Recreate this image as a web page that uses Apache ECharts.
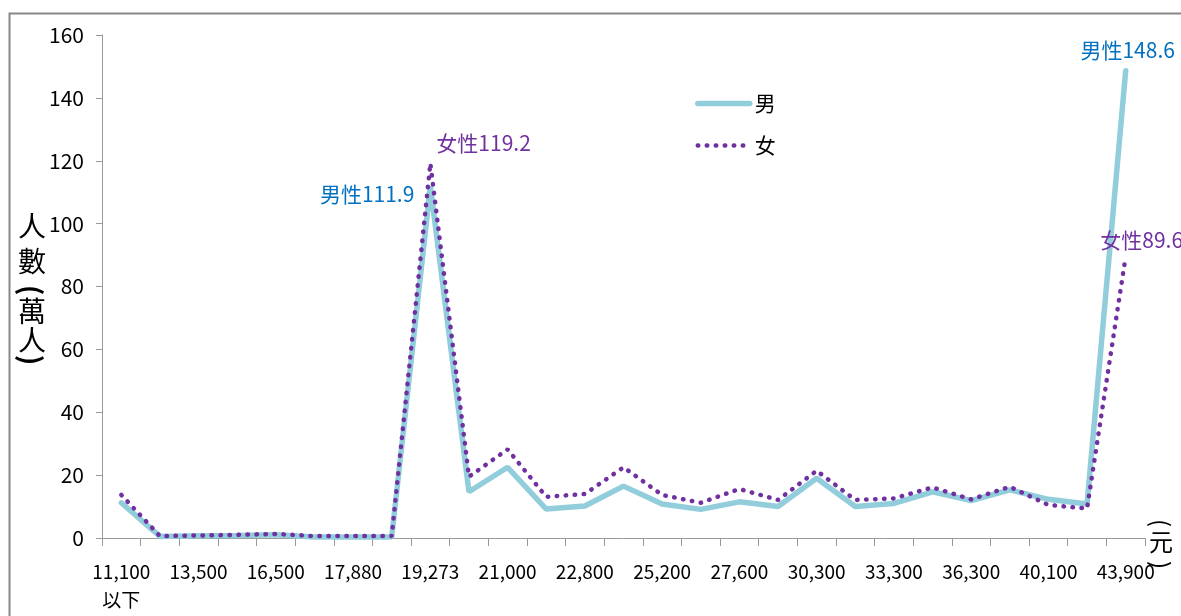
<!DOCTYPE html>
<html><head><meta charset="utf-8">
<script src="https://cdn.jsdelivr.net/npm/echarts@6/dist/echarts.min.js"></script>
<style>html,body{margin:0;padding:0;background:#fff}#c{width:1181px;height:616px}</style>
</head><body><div id="c"></div>
<script>
const categories = ['11,100\n以下','12,540','13,500','15,840','16,500','17,280','17,880','19,047','19,273','20,008','21,000','21,900','22,800','24,000','25,200','26,400','27,600','28,800','30,300','31,800','33,300','34,800','36,300','38,200','40,100','42,000','43,900'];
const male =   [11.2,0.5,0.7,0.8,1.0,0.3,0.3,0.3,111.9,14.7,22.5,9.2,10.2,16.5,10.8,9.1,11.5,10.0,19.0,10.0,11.0,14.7,11.9,15.3,12.3,10.8,148.6];
const female = [13.7,0.6,0.8,1.0,1.3,0.6,0.6,0.6,119.2,19.5,28.2,13.1,14.0,22.5,13.7,11.2,15.6,12.1,21.4,12.1,12.6,16.1,12.3,16.3,10.5,9.4,89.6];
const yTicks = [0,20,40,60,80,100,120,140,160];
const seriesNames = ['男','女'];
const labelPrefix = ['男性','女性'];
const labelledIdx = [8,26];

const font = '"Noto Sans CJK TC", "Noto Sans", sans-serif';
const maleLabelPos = [{position:'left',distance:14,offset:[-2,8]}, {position:'top',distance:8,offset:[2,-2]}];
const femaleLabelPos = [{position:'right',distance:6,offset:[0,-20]}, {position:'top',distance:6,offset:[16,0]}];
function marks(vals, posList, color, prefix){
  return labelledIdx.map((i,k)=>({
    coord:[i, vals[i]], value:vals[i],
    label:Object.assign({show:true,color:color,fontSize:21,fontFamily:font,formatter:prefix+vals[i].toFixed(1)}, posList[k])
  }));
}
const chart = echarts.init(document.getElementById('c'));
chart.setOption({
  animation:false,
  backgroundColor:'#fff',
  grid:{left:102,right:36,top:35,bottom:78},
  legend:{orient:'vertical',left:690,top:88,itemWidth:52,itemHeight:12,itemGap:21,
    itemStyle:{opacity:0},
    lineStyle:{width:'inherit'},
    textStyle:{fontSize:21,color:'#000',fontFamily:font},
    data:seriesNames},
  xAxis:{type:'category',data:categories,boundaryGap:true,
    axisLine:{lineStyle:{color:'#999',width:1}},
    axisTick:{show:true,interval:0,length:8,lineStyle:{color:'#999'}},
    axisLabel:{interval:1,color:'#000',fontSize:19,fontFamily:font,margin:20,lineHeight:28,align:'center'}},
  yAxis:{type:'value',min:yTicks[0],max:yTicks[yTicks.length-1],interval:20,
    splitLine:{show:false},
    axisLine:{show:true,lineStyle:{color:'#999'}},
    axisTick:{show:true,length:6,lineStyle:{color:'#999'}},
    axisLabel:{color:'#000',fontSize:21,fontFamily:font,margin:18}},
  graphic:[
    {type:'rect',shape:{x:9.5,y:13.5,width:1300,height:800},style:{fill:'none',stroke:'#888',lineWidth:2},silent:true,z:-1},
    {type:'text',x:18,y:212,style:{text:'人',fontSize:28,fill:'#000',fontFamily:font}},
    {type:'text',x:18,y:247,style:{text:'數',fontSize:28,fill:'#000',fontFamily:font}},
    {type:'text',x:32,y:290,rotation:-Math.PI/2,style:{text:'(',fontSize:28,fill:'#000',fontFamily:font,fontWeight:'bold',align:'center',verticalAlign:'middle'}},
    {type:'text',x:18,y:297,style:{text:'萬',fontSize:28,fill:'#000',fontFamily:font}},
    {type:'text',x:18,y:326,style:{text:'人',fontSize:28,fill:'#000',fontFamily:font}},
    {type:'text',x:32,y:360,rotation:-Math.PI/2,style:{text:')',fontSize:28,fill:'#000',fontFamily:font,fontWeight:'bold',align:'center',verticalAlign:'middle'}},
    {type:'text',x:1161,y:523,rotation:-Math.PI/2,style:{text:'(',fontSize:24,fill:'#000',fontFamily:font,align:'center',verticalAlign:'middle'}},
    {type:'text',x:1149,y:530,style:{text:'元',fontSize:24,fill:'#000',fontFamily:font}},
    {type:'text',x:1161,y:565,rotation:-Math.PI/2,style:{text:')',fontSize:24,fill:'#000',fontFamily:font,align:'center',verticalAlign:'middle'}}
  ],
  series:[
    {name:seriesNames[0],type:'line',data:male,symbol:'none',
      lineStyle:{color:'#92CDDC',width:5.5,cap:'round'},itemStyle:{color:'#92CDDC'},z:2,
      markPoint:{symbol:'circle',symbolSize:0,silent:true,data:marks(male,maleLabelPos,'#0070C0',labelPrefix[0])}},
    {name:seriesNames[1],type:'line',data:female,symbol:'none',
      lineStyle:{color:'#7030A0',width:4.5,type:[0.5,8.5],cap:'round'},itemStyle:{color:'#7030A0'},z:3,
      markPoint:{symbol:'circle',symbolSize:0,silent:true,data:marks(female,femaleLabelPos,'#7030A0',labelPrefix[1])}}
  ]
});
</script></body></html>
